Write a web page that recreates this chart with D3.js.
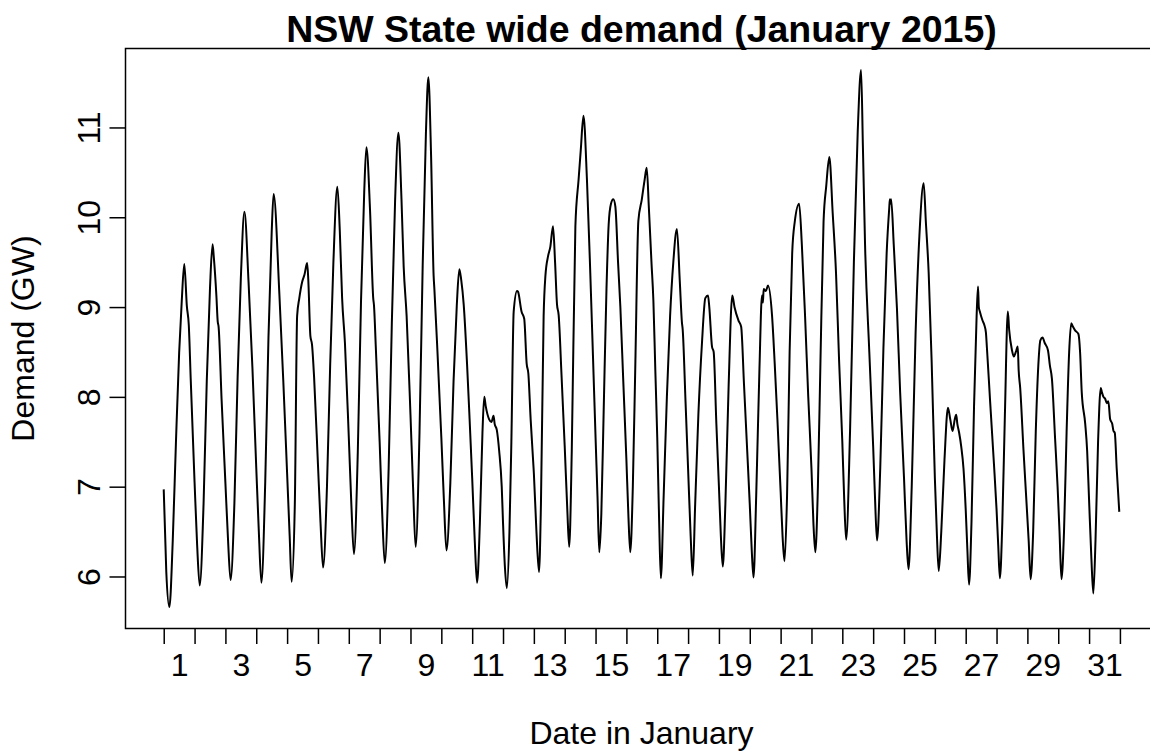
<!DOCTYPE html>
<html>
<head>
<meta charset="utf-8">
<script src="https://cdn.jsdelivr.net/npm/d3@7"></script>
<style>
  body { margin: 0; background: #fff; }
  svg text { font-family: "Liberation Sans", Arial, sans-serif; fill: #000; }
</style>
</head>
<body>
<svg id="chart"></svg>
<script>
// Days of January and the labelled ones on the x axis
const days = [1, 2, 3, 4, 5, 6, 7, 8, 9, 10, 11, 12, 13, 14, 15, 16, 17, 18, 19, 20, 21, 22, 23, 24, 25, 26, 27, 28, 29, 30, 31];
const dayLabels = [1, 3, 5, 7, 9, 11, 13, 15, 17, 19, 21, 23, 25, 27, 29, 31];
const yTicks = [6, 7, 8, 9, 10, 11];

// Demand: one row per day, [hour of day, GW]
const demandByDay = [
    [[0, 6.97], [2, 6.05], [4.4, 5.66], [7, 6.39], [9.5, 7.49], [12, 8.49], [14, 9.06], [16, 9.48], [18, 9.01], [19.5, 8.8], [21, 8.2]],
    [[0, 7.05], [2, 6.35], [4, 5.9], [7, 6.81], [9.5, 8.18], [12, 9.21], [14, 9.7], [15, 9.55], [17, 9.12], [18, 8.84], [18.7, 8.78], [21, 7.98]],
    [[0, 7.04], [2, 6.42], [4, 5.96], [7, 6.82], [9.5, 8.22], [12, 9.32], [14.8, 10.06], [18, 9.28], [21, 8.33]],
    [[0, 7.21], [2, 6.5], [4, 5.93], [7, 7.06], [9.5, 8.66], [12, 9.83], [13.5, 10.26], [18, 9.14], [21, 8.19]],
    [[0, 7.15], [2, 6.45], [3.5, 5.94], [6, 6.8], [7.8, 8.9], [9.5, 9.1], [11.7, 9.28], [13.5, 9.36], [15.6, 9.49], [16.5, 9.3], [18.1, 8.68], [19.4, 8.58], [21, 8.22]],
    [[0, 7.25], [2, 6.6], [4, 6.1], [7, 6.99], [9.5, 8.35], [12, 9.49], [15.1, 10.34], [17, 9.85], [18.8, 9.1], [21, 8.6]],
    [[0, 7.55], [2, 6.8], [4, 6.25], [7, 7.38], [9.5, 9.06], [12, 10.28], [13.7, 10.78], [16.5, 10.09], [19, 9.1], [19.6, 9.02], [21, 8.56]],
    [[0, 7.5], [2, 6.7], [4, 6.15], [7, 7.2], [9.5, 8.83], [12, 10.17], [14.6, 10.94], [17, 10.2], [18.7, 9.45], [21, 8.9]],
    [[0, 7.8], [2, 7.0], [4, 6.33], [7, 7.59], [9.5, 9.47], [12, 10.93], [13.9, 11.56], [16, 10.7], [18, 9.35], [18.6, 9.2], [21, 8.5]],
    [[0, 7.55], [2, 6.85], [4, 6.29], [7, 7.04], [9.5, 8.17], [12, 9.01], [14, 9.42], [15.5, 9.3], [17.4, 9.03], [20, 8.37], [22, 7.75]],
    [[0, 7.1], [2, 6.4], [3.8, 5.93], [6, 6.6], [8, 7.6], [9.4, 8.0], [10.5, 7.9], [13.2, 7.75], [15, 7.72], [16.6, 7.79], [17.5, 7.7], [19.2, 7.63], [21, 7.4], [23, 7.0]],
    [[0, 6.6], [1.5, 6.1], [3, 5.87], [5, 6.5], [6.5, 7.5], [8.3, 8.95], [10.9, 9.18], [11.7, 9.17], [14.4, 8.95], [16.5, 8.87], [18.4, 8.37], [19.7, 8.26], [21.5, 7.75], [23.8, 7.2]],
    [[0, 7.15], [2, 6.5], [4, 6.05], [5.5, 6.8], [7.6, 8.9], [9, 9.35], [11.1, 9.57], [12.8, 9.67], [14.9, 9.9], [16.5, 9.5], [18, 9.03], [19.3, 8.91], [21.5, 8.25]],
    [[0, 7.45], [2, 6.75], [3.5, 6.33], [5.5, 7.4], [8.3, 9.9], [10.8, 10.42], [12.5, 10.75], [14.6, 11.13], [17.3, 10.42], [19.9, 9.38], [22, 8.45]],
    [[0, 7.55], [1.5, 6.9], [2.9, 6.27], [4.5, 6.7], [6.3, 7.83], [8.5, 9.2], [10.2, 9.92], [12, 10.15], [13.8, 10.2], [15.4, 10.12], [17.5, 9.5], [19.3, 9.0], [21.5, 8.2]],
    [[0, 7.3], [1.5, 6.7], [3, 6.27], [5, 7.0], [7, 8.4], [9.3, 9.96], [12, 10.2], [14, 10.4], [15.8, 10.55], [17.5, 10.1], [19.5, 9.5], [21, 9.07], [22.5, 8.3]],
    [[0, 7.55], [1.5, 6.6], [2.8, 5.98], [5, 6.9], [7.5, 8.0], [10, 8.9], [12.5, 9.5], [15.3, 9.87], [17.5, 9.3], [19.2, 8.83], [19.8, 8.75], [22, 7.95]],
    [[0, 7.2], [2, 6.45], [3.6, 6.01], [5.5, 6.8], [8, 7.8], [10.8, 8.6], [13.4, 9.1], [15.5, 9.13], [16.5, 9.0], [18.6, 8.56], [19.9, 8.5], [22, 7.7]],
    [[0, 7.0], [1.5, 6.45], [3, 6.11], [5, 6.8], [7.5, 8.1], [10.4, 9.13], [12.1, 9.0], [15.2, 8.85], [17.3, 8.78], [19.5, 8.14], [22, 7.4]],
    [[0, 6.8], [1.5, 6.3], [2.9, 5.99], [5, 6.9], [7.5, 8.3], [9.5, 9.13], [10.2, 9.05], [10.8, 9.2], [12.5, 9.18], [14.2, 9.24], [17.3, 8.91], [19.4, 8.37], [21.5, 7.75]],
    [[0, 6.95], [1.5, 6.45], [3, 6.17], [5, 6.9], [7, 8.5], [9, 9.6], [11, 9.95], [14.4, 10.15], [16.5, 9.7], [19.1, 8.87], [21.5, 8.0]],
    [[0, 7.2], [1.5, 6.6], [3, 6.27], [5, 7.0], [7, 8.4], [9.4, 9.95], [11.5, 10.35], [13.9, 10.67], [16.5, 10.05], [19.1, 9.38], [21.5, 8.4]],
    [[0, 7.5], [1.5, 6.85], [3, 6.41], [6, 7.61], [9, 9.5], [12, 10.96], [14.6, 11.64], [16, 10.8], [17.7, 9.69], [21, 8.5]],
    [[0, 7.45], [1.5, 6.85], [3, 6.4], [5.5, 7.2], [8, 8.55], [10.5, 9.6], [12.5, 10.1], [13, 10.2], [13.5, 10.15], [14, 10.2], [16, 9.7], [18.5, 8.99], [21, 8.05]],
    [[0, 7.1], [2, 6.4], [3.5, 6.08], [6, 7.0], [9, 8.7], [12, 9.8], [15.3, 10.38], [17, 9.95], [19.2, 9.38], [21.5, 8.4]],
    [[0, 7.1], [1.5, 6.5], [3, 6.06], [5, 6.5], [7.5, 7.3], [10.2, 7.88], [12, 7.75], [13.8, 7.62], [15.5, 7.75], [16.6, 7.8], [17.5, 7.7], [18.9, 7.6], [20.5, 7.45], [22.3, 7.2]],
    [[0, 6.75], [1.3, 6.3], [2.6, 5.91], [4.5, 6.6], [6.5, 7.9], [8.5, 8.9], [9.6, 9.23], [10.2, 9.0], [11, 8.95], [13.1, 8.85], [14.5, 8.8], [15.7, 8.72], [16.5, 8.55], [19, 7.95], [22, 7.25]],
    [[0, 6.75], [1.3, 6.35], [2.6, 5.98], [4.5, 6.6], [6.5, 7.8], [8.8, 8.95], [9.8, 8.75], [12, 8.52], [13.5, 8.45], [15, 8.5], [16.5, 8.56], [17.2, 8.3], [18.4, 8.1], [21, 7.4], [23, 6.9]],
    [[1, 6.4], [2.5, 5.97], [4.5, 6.5], [6.5, 7.6], [8.5, 8.35], [10.1, 8.63], [11.8, 8.66], [13.5, 8.6], [16, 8.52], [17.5, 8.35], [19.1, 8.2], [21.5, 7.55], [23.5, 7.0]],
    [[1, 6.5], [2.5, 5.97], [4.5, 6.5], [6.5, 7.6], [8.5, 8.5], [10.1, 8.82], [11.5, 8.78], [13.1, 8.74], [15.7, 8.7], [17, 8.5], [18.3, 8.05], [21, 7.7], [22.5, 7.4]],
    [[0, 6.85], [1.8, 6.2], [3.3, 5.81], [5, 6.4], [7, 7.5], [9.1, 8.1], [10, 8.05], [11.2, 8.0], [12.5, 7.98], [13.8, 7.93], [15, 7.95], [16.4, 7.75], [18, 7.7], [19, 7.62], [20, 7.6], [21.5, 7.2], [23.5, 6.72]]
];

// Page and plot region (right edge of the box falls just outside the window)
const width = 1150, height = 751;
const plot = { left: 125.5, right: 1157.5, top: 48.5, bottom: 628.5 };

const svg = d3.select("#chart")
    .attr("width", width)
    .attr("height", height);

// Flatten to hours since 1 Jan 00:00
const points = demandByDay.flatMap((day, i) => day.map(([h, gw]) => ({ hour: (days[i] - 1) * 24 + h, gw })));

// R style axis ranges: data extent plus 4% on each side
const xExt = d3.extent(points, d => d.hour);
const xPad = (xExt[1] - xExt[0]) * 0.04;
const x = d3.scaleLinear()
    .domain([xExt[0] - xPad, xExt[1] + xPad])
    .range([plot.left, plot.right]);

const yExt = d3.extent(points, d => d.gw);
const yPad = (yExt[1] - yExt[0]) * 0.04;
const y = d3.scaleLinear()
    .domain([yExt[0] - yPad, yExt[1] + yPad])
    .range([plot.bottom, plot.top]);

// Demand line
svg.append("path")
    .datum(points)
    .attr("fill", "none")
    .attr("stroke", "#000")
    .attr("stroke-width", 2)
    .attr("stroke-linejoin", "round")
    .attr("d", d3.line().curve(d3.curveMonotoneX).x(d => x(d.hour)).y(d => y(d.gw)));

// Box around the plot
svg.append("rect")
    .attr("x", plot.left)
    .attr("y", plot.top)
    .attr("width", plot.right - plot.left)
    .attr("height", plot.bottom - plot.top)
    .attr("fill", "none")
    .attr("stroke", "#000")
    .attr("stroke-width", 1.5);

// x axis: ticks at day boundaries, labels at midday of odd days
const dayEdges = [0, ...days.map(d => d * 24)];
const xTicks = svg.append("g")
    .attr("transform", `translate(0,${plot.bottom})`)
    .call(d3.axisBottom(x).tickValues(dayEdges).tickSize(15.5).tickFormat(""));
xTicks.select(".domain").remove();
xTicks.selectAll("line").attr("stroke-width", 1.5);

const xLabels = svg.append("g")
    .attr("transform", `translate(0,${plot.bottom})`)
    .call(d3.axisBottom(x)
        .tickValues(dayLabels.map(d => (d - 1) * 24 + 12))
        .tickSize(0)
        .tickPadding(25)
        .tickFormat(h => (h - 12) / 24 + 1));
xLabels.select(".domain").remove();
xLabels.selectAll("text")
    .attr("font-size", 32)
    .attr("font-family", null);

// y axis with rotated labels
const yAxis = svg.append("g")
    .attr("transform", `translate(${plot.left},0)`)
    .call(d3.axisLeft(y).tickValues(yTicks).tickSize(16).tickFormat(d3.format("d")));
yAxis.select(".domain").remove();
yAxis.selectAll("line").attr("stroke-width", 1.5);
yAxis.selectAll("text")
    .attr("x", null)
    .attr("dy", null)
    .attr("font-size", 32)
    .attr("font-family", null)
    .attr("text-anchor", "middle")
    .attr("transform", "translate(-25.5,0) rotate(-90)");

// Titles
const midX = (plot.left + plot.right) / 2;
svg.append("text")
    .attr("x", midX)
    .attr("y", 42)
    .attr("text-anchor", "middle")
    .attr("font-size", 37.5)
    .attr("font-weight", "bold")
    .text("NSW State wide demand (January 2015)");

svg.append("text")
    .attr("x", midX)
    .attr("y", 744)
    .attr("text-anchor", "middle")
    .attr("font-size", 32)
    .text("Date in January");

svg.append("text")
    .attr("transform", `translate(34,${(plot.top + plot.bottom) / 2}) rotate(-90)`)
    .attr("text-anchor", "middle")
    .attr("font-size", 32)
    .text("Demand (GW)");
</script>
</body>
</html>
